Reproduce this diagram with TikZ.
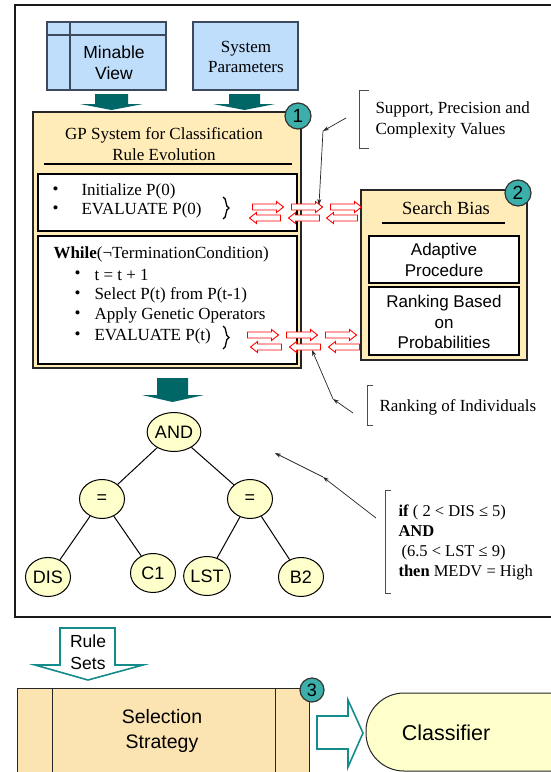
\documentclass[tikz,border=0pt]{standalone}
\usepackage{fontspec}
\setmainfont{Liberation Serif}
\setsansfont{Liberation Sans}
\usetikzlibrary{shapes.geometric,decorations.pathreplacing,arrows.meta}
\definecolor{tanfill}{HTML}{FFECB9}
\definecolor{tanfillB}{HTML}{FCE4B2}
\definecolor{bluefill}{HTML}{BEDEFC}
\definecolor{blueedge}{HTML}{3E4A5C}
\definecolor{treefill}{HTML}{FFFFCC}
\definecolor{badgefill}{HTML}{3CAFAA}
\definecolor{darkteal}{HTML}{006666}
\definecolor{tealedge}{HTML}{148C8C}
\tikzset{
  panel/.style={draw=black!85, line width=1.4pt, fill=tanfill},
  whitebox/.style={draw=black, line width=1.1pt, fill=white},
  bluebox/.style={draw=blueedge, line width=1.1pt, fill=bluefill},
  badge/.style={circle, draw=black!80, line width=1.2pt, fill=badgefill, minimum size=26pt, inner sep=0pt, font=\sffamily\fontsize{19}{19}\selectfont},
  treenode/.style={ellipse, draw=black, line width=1pt, fill=treefill, minimum width=45pt, minimum height=39pt, inner sep=0pt, font=\sffamily\fontsize{18}{18}\selectfont},
  treeedge/.style={draw=black, line width=1pt},
  redarrow/.style={draw=red, line width=0.9pt, fill=white, line join=miter},
  annarrow/.style={draw=black!85, line width=0.7pt, -{Stealth[length=6pt,width=4pt]}},
  bracketline/.style={draw=black!70, line width=1pt},
  serifbody/.style={font=\fontsize{17}{20.5}\selectfont},
  bracedeco/.style={draw=black, line width=1.3pt, decorate, decoration={brace, amplitude=6pt}},
  blockarrow/.style={fill=darkteal},
  hollowarrow/.style={draw=tealedge, line width=1.6pt, fill=white, line join=miter},
}
\newcommand\redR[2]{\draw[redarrow, shift={(#1,#2)}] (-15.5,3) -- (8.5,3) -- (8.5,5.5) -- (15.5,0) -- (8.5,-5.5) -- (8.5,-3) -- (-15.5,-3) -- cycle;}
\newcommand\redL[2]{\draw[redarrow, shift={(#1,#2)}] (15.5,3) -- (-8.5,3) -- (-8.5,5.5) -- (-15.5,0) -- (-8.5,-5.5) -- (-8.5,-3) -- (15.5,-3) -- cycle;}
\begin{document}
\begin{tikzpicture}[x=1pt, y=1pt]
\useasboundingbox (0,0) rectangle (550,-772);
\fill[white] (0,0) rectangle (550,-772);

% outer frame
\draw[line width=2.6pt, draw=black!90] (15,-5) rectangle (590,-617);

% input boxes
\draw[bluebox] (47,-22) rectangle (166,-90);
\draw[blueedge, line width=1.1pt] (70,-22) -- (70,-90);
\draw[blueedge, line width=1.1pt] (47,-35) -- (166,-35);
\node[font=\sffamily\fontsize{17.5}{21}\selectfont, align=center] (minable) at (114,-63) {Minable\\View};
\draw[bluebox] (193,-22) rectangle (298,-90);
\node[font=\fontsize{17}{20}\selectfont, align=center] (sysparam) at (246,-57) {System\\Parameters};

% dark teal block arrows
\fill[blockarrow] (95,-94) -- (128,-94) -- (128,-104) -- (143,-104) -- (111.5,-110) -- (80,-104) -- (95,-104) -- cycle;
\fill[blockarrow] (229,-94) -- (260,-94) -- (260,-104) -- (275,-104) -- (244.5,-110) -- (213,-104) -- (229,-104) -- cycle;

% GP system panel
\draw[panel] (33,-112) rectangle (301,-368);
\node[serifbody, align=center] (gptitle) at (164,-144) {GP System for Classification\\Rule Evolution};
\draw[line width=1.2pt] (44,-164) -- (292,-164);
\draw[whitebox] (38,-174) rectangle (297,-231);
\node[serifbody, anchor=west] (b1) at (49,-191) {•};
\node[serifbody, anchor=west] (init) at (78,-191) {Initialize P(0)};
\node[serifbody, anchor=west] (b2) at (49,-210) {•};
\node[serifbody, anchor=west] (eval0) at (78,-210) {EVALUATE P(0)};
\draw[bracedeco] (223,-197) -- (223,-219);

\draw[whitebox] (38,-236) rectangle (297,-364);
\node[serifbody, anchor=west] (while) at (50,-254) {\textbf{While}(¬TerminationCondition)};
\node[serifbody, anchor=west] (b3) at (71,-275) {•};
\node[serifbody, anchor=west] (tinc) at (91,-275) {t = t + 1};
\node[serifbody, anchor=west] (b4) at (71,-295) {•};
\node[serifbody, anchor=west] (sel) at (91,-295) {Select P(t) from P(t-1)};
\node[serifbody, anchor=west] (b5) at (71,-315) {•};
\node[serifbody, anchor=west] (apply) at (91,-315) {Apply Genetic Operators};
\node[serifbody, anchor=west] (b6) at (71,-336) {•};
\node[serifbody, anchor=west] (evalt) at (91,-336) {EVALUATE P(t)};
\draw[bracedeco] (223,-326) -- (223,-349);

\node[badge] (badge1) at (298,-116) {1};

% Search bias panel
\draw[panel] (361,-190) rectangle (527,-360);
\node[font=\fontsize{18.5}{20}\selectfont] (sbtitle) at (446,-208) {Search Bias};
\draw[line width=1.2pt] (382,-223) -- (505,-223);
\draw[whitebox] (369,-236) rectangle (519,-283);
\node[font=\sffamily\fontsize{17}{20.5}\selectfont, align=center] (adaptive) at (444,-260) {Adaptive\\Procedure};
\draw[whitebox] (369,-287) rectangle (519,-355);
\node[font=\sffamily\fontsize{17}{20.5}\selectfont, align=center] (rankprob) at (444,-322) {Ranking Based\\on\\Probabilities};
\node[badge] (badge2) at (518,-193) {2};

% red double arrows
\redR{268}{-207}
\redR{307}{-207}
\redR{346}{-207}
\redL{265}{-218}
\redL{304}{-218}
\redL{342}{-218}
\redR{263}{-335}
\redR{302}{-335}
\redR{341}{-335}
\redL{266}{-347}
\redL{305}{-347}
\redL{344}{-347}

% Support annotation
\draw[bracketline] (369,-90) -- (359,-90) -- (359,-148) -- (369,-148);
\node[font=\fontsize{17}{21}\selectfont, align=left, anchor=west] (support) at (372,-120) {Support, Precision and\\Complexity Values};
\coordinate (s0) at (346,-118);
\coordinate (s1) at (323,-131);
\coordinate (s2) at (319,-205);
\draw[annarrow] (s0) -- (s1);
\draw[annarrow] (s1) -- (s2);

% Ranking annotation
\draw[bracketline] (373,-385) -- (367,-385) -- (367,-425) -- (373,-425);
\node[font=\fontsize{17}{20}\selectfont, anchor=west] (ranking) at (376,-407) {Ranking of Individuals};
\coordinate (r0) at (353,-413);
\coordinate (r1) at (333,-399);
\coordinate (r2) at (312,-350);
\draw[annarrow] (r0) -- (r1);
\draw[annarrow] (r1) -- (r2);

% tree arrow
\fill[blockarrow] (157,-378) -- (188,-378) -- (188,-395) -- (204,-395) -- (172.5,-402) -- (142,-395) -- (157,-395) -- cycle;

% tree
\node[treenode] (and) at (174,-432) {AND};
\node[treenode] (eqL) at (102,-499) {=};
\node[treenode] (eqR) at (250,-499) {=};
\node[treenode] (dis) at (48,-577) {DIS};
\node[treenode] (c1) at (153,-573) {C1};
\node[treenode] (lst) at (207,-576) {LST};
\node[treenode] (b2n) at (301,-577) {B2};
\draw[treeedge] (and) -- (eqL);
\draw[treeedge] (and) -- (eqR);
\draw[treeedge] (eqL) -- (dis);
\draw[treeedge] (eqL) -- (c1);
\draw[treeedge] (eqR) -- (lst);
\draw[treeedge] (eqR) -- (b2n);

% rule annotation
\draw[bracketline] (391,-490) -- (385,-490) -- (385,-593) -- (391,-593);
\node[font=\fontsize{16.5}{20.3}\selectfont, align=left, anchor=west] (ruletext) at (395,-542.5)
  {\textbf{if} ( 2 < DIS ≤ 5)\\\textbf{AND}\\\hspace{3pt}(6.5 < LST ≤ 9)\\\textbf{then} MEDV = High};
\coordinate (q0) at (376,-518);
\coordinate (q1) at (323,-477);
\coordinate (q2) at (275,-453);
\draw[annarrow] (q0) -- (q1);
\draw[annarrow] (q1) -- (q2);

% bottom part
\draw[hollowarrow] (60,-628) -- (115,-628) -- (115,-665) -- (143,-665) -- (88,-680) -- (35,-665) -- (60,-665) -- cycle;
\node[font=\sffamily\fontsize{17.5}{22}\selectfont, align=center] (rulesets) at (88,-652) {Rule\\Sets};

\draw[fill=tanfillB, draw=black!85, line width=1pt] (17,-688) rectangle (309,-800);
\draw[black!85, line width=1pt] (52,-688) -- (52,-800);
\draw[black!85, line width=1pt] (275,-688) -- (275,-800);
\node[font=\sffamily\fontsize{19.5}{25}\selectfont, align=center] (selstrat) at (162,-731) {Selection\\Strategy};
\node[badge, minimum size=24pt, font=\sffamily\fontsize{18}{18}\selectfont] (badge3) at (312,-690) {3};

\draw[hollowarrow] (317,-716) -- (348,-716) -- (348,-700) -- (363,-733) -- (348,-767) -- (348,-749) -- (317,-749) -- cycle;

\draw[fill=treefill, draw=black!85, line width=1pt, rounded corners=38pt] (366,-693) rectangle (640,-771);
\node[font=\sffamily\fontsize{21.5}{22}\selectfont] (classifier) at (446,-733) {Classifier};
\end{tikzpicture}
\end{document}
